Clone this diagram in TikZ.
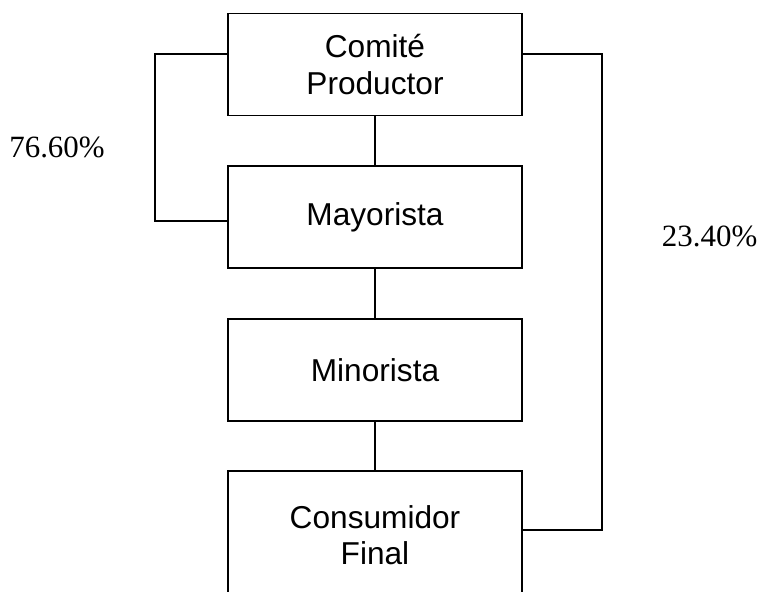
\documentclass[tikz,border=0pt]{standalone}
\usepackage{fontspec}
\setmainfont{Liberation Serif}
\setsansfont{Liberation Sans}
\usetikzlibrary{positioning}

\begin{document}
\begin{tikzpicture}[
    node distance=1.22cm,
    stage/.style={
        rectangle,
        draw=black,
        line width=1.3pt,
        minimum width=7.35cm,
        minimum height=2.55cm,
        align=center,
        font=\sffamily\fontsize{22.5}{26}\selectfont
    },
    link/.style={
        draw=black,
        line width=1.3pt
    },
    share/.style={
        font=\rmfamily\fontsize{22}{26}\selectfont
    }
]
\useasboundingbox (0,0) rectangle (19.05,-14.775);

% stages of the chain
\node[stage] (comite) at (9.375,-1.6125) {Comité\\Productor};
\node[stage, below=of comite] (mayor) {Mayorista};
\node[stage, below=of mayor] (minor) {Minorista};
\node[stage, below=of minor, minimum height=3.2cm] (consum) {Consumidor\\Final};

% straight links
\draw[link] (comite) -- (mayor);
\draw[link] (mayor) -- (minor);
\draw[link] (minor) -- (consum.north);

% side loops
\draw[link] ([yshift=0.26cm]comite.west) -| ([xshift=-1.8cm,yshift=-0.09cm]mayor.west) -- ([yshift=-0.09cm]mayor.west);
\draw[link] ([yshift=0.26cm]comite.east) -| ([xshift=1.975cm,yshift=0.125cm]consum.east) -- ([yshift=0.125cm]consum.east);

% shares
\node[share] (pmayor) at (1.425,-3.69) {76.60\%};
\node[share] (pdirect) at (17.74,-5.92) {23.40\%};

\end{tikzpicture}
\end{document}
